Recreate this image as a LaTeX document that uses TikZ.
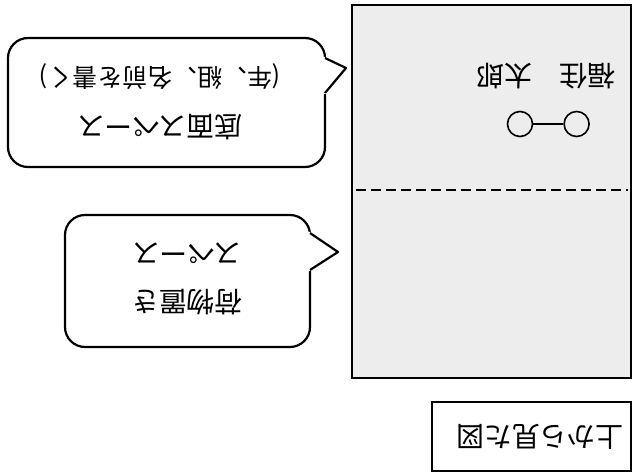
\documentclass[tikz,border=0pt]{standalone}
\usepackage{fontspec}
\newfontfamily\jpfont{Noto Sans CJK JP}
\usetikzlibrary{positioning}

\begin{document}
\begin{tikzpicture}[
    x=1bp, y=-1bp,
    bubble/.style={draw, line width=2.2bp, fill=white, rounded corners=20bp},
    pointer/.style={line width=2.2bp, line join=round},
    label/.style={rotate=180, align=center, font=\jpfont\fontsize{28}{48}\selectfont, inner sep=0pt},
    ring/.style={circle, draw, line width=1.6bp, minimum size=25bp, inner sep=0pt}
]
\useasboundingbox (0,0) rectangle (634,473);

% Box seen from above
\draw[line width=2bp, fill=black!7] (352,5) rectangle (631,378);
\draw[line width=2bp, dash pattern=on 10bp off 5bp] (356,190) -- (628,190);
\node[label] (name) at (546,76) {福住　太郎};
\node[ring] (ringL) at (520,124) {};
\node[ring, right=30bp of ringL] (ringR) {};
\draw[line width=1.6bp] (ringL) -- (ringR);

% Callouts
\draw[bubble] (8,38) rectangle (325,167);
\fill[white] (321,57) -- (327,57) -- (346,68) -- (327,94) -- (321,94) -- cycle;
\draw[pointer] (325,58) -- (346,68) -- (325,93);
\node[label] (bottomText) at (160,102) {底面スペース\\{\fontsize{25}{48}\selectfont(年、組、名前を書く)}};

\draw[bubble] (65,215) rectangle (310,347);
\fill[white] (306,232) -- (312,232) -- (338,252) -- (312,271) -- (306,271) -- cycle;
\draw[pointer] (310,233) -- (338,252) -- (310,270);
\node[label] (luggage) at (187,279) {荷物置き\\スペース};

% Caption
\draw[line width=1.5bp] (432,402) rectangle (631,471);
\node[label] (caption) at (540,437) {上から見た図};
\end{tikzpicture}
\end{document}
